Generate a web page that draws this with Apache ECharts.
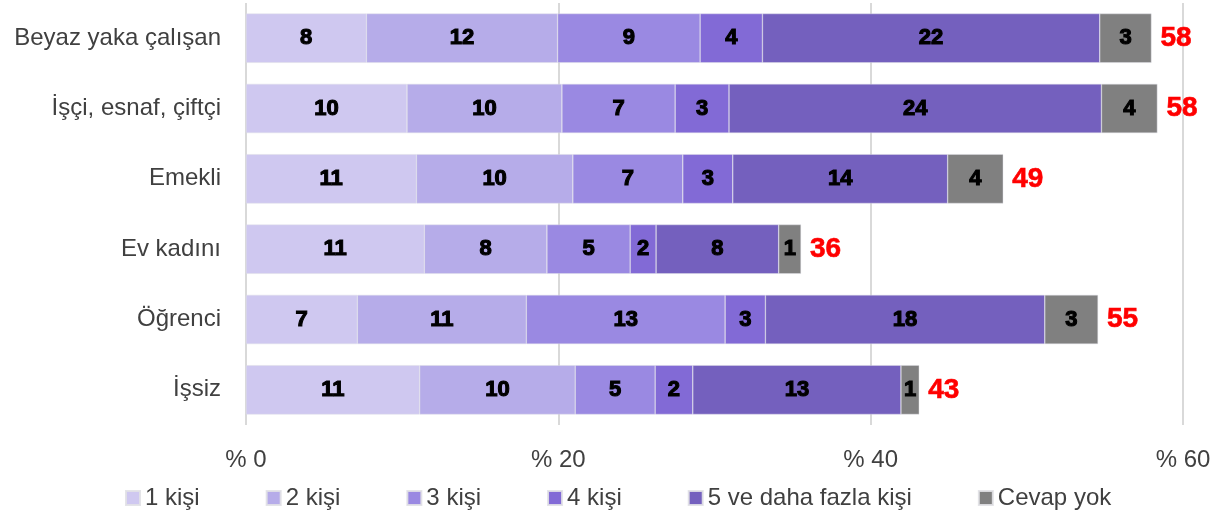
<!DOCTYPE html>
<html>
<head>
<meta charset="utf-8">
<script src="https://cdn.jsdelivr.net/npm/echarts@6/dist/echarts.min.js"></script>
<style>
  html, body { margin: 0; padding: 0; background: #fff; }
  #chart { width: 1226px; height: 518px; }
</style>
</head>
<body>
<div id="chart"></div>
<script>
// kategoriler (yukaridan asagiya)
var categories = ['Beyaz yaka çalışan', 'İşçi, esnaf, çiftçi', 'Emekli', 'Ev kadını', 'Öğrenci', 'İşsiz'];
var seriesNames = ['1 kişi', '2 kişi', '3 kişi', '4 kişi', '5 ve daha fazla kişi', 'Cevap yok'];

// okunan degerler (%)
var kisi1 = [7.71, 10.31, 10.91, 11.42, 7.13, 11.12];
var kisi2 = [12.24, 9.92, 10.02, 7.85, 10.82, 9.96];
var kisi3 = [9.13, 7.25, 7.04, 5.33, 12.73, 5.12];
var kisi4 = [3.99, 3.45, 3.2, 1.66, 2.58, 2.41];
var kisi5Plus = [21.6, 23.85, 13.76, 7.85, 17.89, 13.33];
var cevapYok = [3.31, 3.58, 3.56, 1.43, 3.41, 1.17];
var totals = [58, 58, 49, 36, 55, 43];

var xTicks = [0, 20, 40, 60];

var colors = ['#cfc8f0', '#b6ace9', '#9a89e2', '#826ad6', '#7460be', '#808080'];
var allData = [kisi1, kisi2, kisi3, kisi4, kisi5Plus, cevapYok];

var font = '"Liberation Sans", Arial, sans-serif';

var series = allData.map(function (d, i) {
  return {
    name: seriesNames[i],
    type: 'bar',
    stack: 'toplam',
    barCategoryGap: '30%',
    itemStyle: {
      color: colors[i],
      borderColor: 'rgba(225,225,230,0.9)',
      borderWidth: 0.5,
    },
    label: {
      show: true,
      position: 'inside',
      color: '#000',
      fontFamily: font,
      fontWeight: 'bold',
      fontSize: 22,
      textBorderColor: '#000',
      textBorderWidth: 1.1,
      formatter: function (p) {
        return Math.round(p.value);
      },
    },
    data: d,
  };
});

// toplam etiketleri icin seffaf bar
var sums = categories.map(function (c, j) {
  var s = 0;
  allData.forEach(function (d) { s += d[j]; });
  return s;
});
series.push({
  name: 'toplam',
  type: 'bar',
  barGap: '-100%',
  silent: true,
  z: 1,
  itemStyle: { color: 'rgba(0,0,0,0)' },
  label: {
    show: true,
    position: 'right',
    distance: 9,
    color: '#ff0000',
    fontFamily: font,
    fontWeight: 'bold',
    fontSize: 28,
    textBorderColor: '#ff0000',
    textBorderWidth: 0.6,
    formatter: function (p) {
      return totals[p.dataIndex];
    },
  },
  data: sums,
});

var chart = echarts.init(document.getElementById('chart'));
chart.setOption({
  animation: false,
  color: colors,
  grid: {
    left: 246,
    right: 43,
    top: 3,
    bottom: 93,
    containLabel: false,
  },
  legend: {
    data: seriesNames,
    bottom: 3,
    left: 120,
    itemWidth: 14,
    itemHeight: 14,
    itemGap: 66,
    icon: 'rect',
    textStyle: {
      color: '#404040',
      fontFamily: font,
      fontSize: 24,
    },
  },
  xAxis: {
    type: 'value',
    min: 0,
    max: xTicks[xTicks.length - 1],
    interval: 20,
    axisLine: { show: false },
    axisTick: { show: false },
    splitLine: {
      show: true,
      lineStyle: { color: '#d9d9d9', width: 2 },
    },
    axisLabel: {
      margin: 23,
      color: '#404040',
      fontFamily: font,
      fontSize: 24,
      formatter: '% {value}',
    },
  },
  yAxis: {
    type: 'category',
    inverse: true,
    data: categories,
    axisLine: { show: false },
    axisTick: { show: false },
    axisLabel: {
      margin: 25,
      color: '#404040',
      fontFamily: font,
      fontSize: 24,
    },
  },
  series: series,
});
</script>
</body>
</html>
